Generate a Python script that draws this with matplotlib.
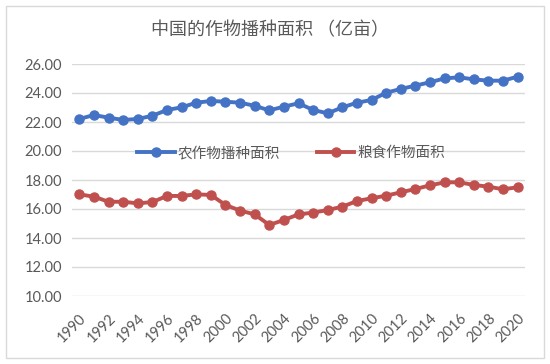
import matplotlib
matplotlib.use("Agg")
import matplotlib.pyplot as plt
from matplotlib.patches import Rectangle

plt.rcParams['font.family'] = ['Noto Sans CJK SC', 'DejaVu Sans']

years = list(range(1990, 2021))
crop_area = [22.21, 22.48, 22.30, 22.14, 22.21, 22.43, 22.83, 23.01, 23.33, 23.45,
             23.40, 23.33, 23.12, 22.80, 23.06, 23.29, 22.83, 22.60, 23.01, 23.33,
             23.52, 24.02, 24.28, 24.51, 24.74, 25.01, 25.08, 24.94, 24.85, 24.85,
             25.13]
grain_area = [17.01, 16.85, 16.50, 16.50, 16.39, 16.48, 16.90, 16.90, 17.01, 16.97,
              16.28, 15.89, 15.63, 14.90, 15.24, 15.63, 15.75, 15.93, 16.16, 16.55,
              16.74, 16.92, 17.15, 17.38, 17.63, 17.84, 17.84, 17.66, 17.54, 17.36,
              17.50]
series_names = ["农作物播种面积", "粮食作物面积"]
title = "中国的作物播种面积 （亿亩）"
yticks = [10, 12, 14, 16, 18, 20, 22, 24, 26]
xticks = list(range(1990, 2021, 2))

fig = plt.figure(figsize=(5.5, 3.64), dpi=100)
fig.patch.set_facecolor('white')
fig.patches.append(Rectangle((6/550, 6/364), 538/550, 352/364, transform=fig.transFigure,
                             fill=False, edgecolor='#d9d9d9', linewidth=1.0))

ax = fig.add_axes([72/550, (364-296)/364, (525-72)/550, (296-64)/364])
blue = '#4472C4'
red = '#C0504D'
ax.plot(years, crop_area, color=blue, lw=2.8, marker='o', ms=6.5, label=series_names[0], zorder=3)
ax.plot(years, grain_area, color=red, lw=2.8, marker='o', ms=6.5, label=series_names[1], zorder=3)

tick_font = ['Lato', 'DejaVu Sans']
ax.set_xlim(1989.5, 2020.5)
ax.set_ylim(10, 26)
ax.set_yticks(yticks)
ax.set_yticklabels([f"{v:.2f}" for v in yticks], fontsize=10.5, color='#595959', family=tick_font)
ax.set_xticks(xticks)
ax.set_xticklabels([str(x) for x in xticks], rotation=45, ha='right', rotation_mode='anchor',
                   fontsize=10.5, color='#595959', family=tick_font)
ax.tick_params(axis='y', length=0, pad=7)
ax.tick_params(axis='x', length=0, pad=11)
ax.grid(axis='y', color='#d9d9d9', lw=1.0)
ax.set_axisbelow(True)
for s in ax.spines.values():
    s.set_visible(False)

fig.text(270/550, (364-30)/364, title, ha='center', va='center', fontsize=13, color='#595959')

leg = ax.legend(loc='center', bbox_to_anchor=((291-72)/453, (296-153)/232), ncol=2, frameon=False,
                fontsize=10.5, handlelength=2.6, columnspacing=2.5, handletextpad=0.2, labelcolor='#595959')

fig.savefig('out.png', dpi=100, facecolor='white')
